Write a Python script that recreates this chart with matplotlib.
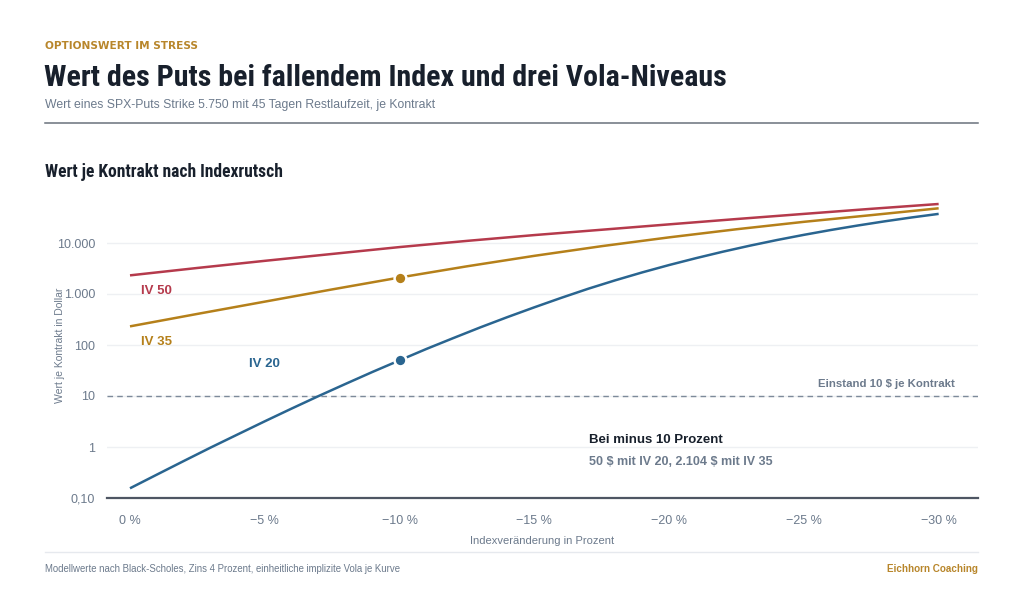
import matplotlib
matplotlib.use("Agg")
import matplotlib.pyplot as plt
from matplotlib import font_manager
from matplotlib.font_manager import FontProperties
from matplotlib.ticker import FixedLocator, FixedFormatter, NullLocator

# index change in percent
index_change = [0, -2.5, -5, -7.5, -10, -12.5, -15, -17.5, -20, -22.5, -25, -27.5, -30]
index_change_fine = list(range(0, -31, -1))

# put value per contract in dollars
iv50 = [2320, 3240, 4470, 6100, 8320, 11000, 14300, 18200, 23200, 29500, 37200, 46800, 58200]
iv35 = [232, 407, 708, 1230, 2104, 3490, 5600, 8670, 12900, 18600, 26000, 35200, 47900]
iv20 = [0.155, 0.288, 0.533, 0.98, 1.77, 3.19, 5.68, 10.0, 17.3, 29.7,
        50, 83.8, 137, 222, 352, 548, 841, 1268, 1854, 2649,
        3698, 5047, 6761, 8872, 11430, 14450, 17990, 22030, 26610, 31700, 37240]

series_names = ["IV 50", "IV 35", "IV 20"]
breakeven = 10
marker_x = -10
marker_iv20 = 50
marker_iv35 = 2104

y_ticks = [0.1, 1, 10, 100, 1000, 10000]
y_tick_labels = ["0,10", "1", "10", "100", "1.000", "10.000"]
x_ticks = [0, -5, -10, -15, -20, -25, -30]
x_tick_labels = ["0 %", "\u22125 %", "\u221210 %", "\u221215 %", "\u221220 %", "\u221225 %", "\u221230 %"]

RED = "#b53a4c"
GOLD = "#b5801a"
BLUE = "#2a6590"
DARK = "#18202c"
GREY = "#6c7a8c"
KICKER = "#b8862b"

plt.rcParams["font.family"] = ["Liberation Sans", "DejaVu Sans"]


def condensed_bold():
    # look for a narrow bold face among installed fonts, else plain bold
    prefs = ["robotocondensed-bold", "notosans-condensedbold", "liberationsansnarrow-bold",
             "dejavusanscondensed-bold", "opensans-condensedbold", "opensans_condensed-bold"]
    files = [f.fname for f in font_manager.fontManager.ttflist]
    for p in prefs:
        for fn in files:
            if fn.lower().split("/")[-1].startswith(p):
                return FontProperties(fname=fn)
    for fn in files:
        low = fn.lower().split("/")[-1]
        if ("condensed" in low or "narrow" in low) and "bold" in low \
                and "italic" not in low and "semi" not in low and "extra" not in low:
            return FontProperties(fname=fn)
    return FontProperties(family="Roboto", weight="bold")


COND = condensed_bold()

fig = plt.figure(figsize=(10.24, 6.02), dpi=100)
fig.patch.set_facecolor("white")

W, H = 1024, 602


def fx(px):
    return px / W


def fy(py):
    return 1 - py / H


def fit_width(txt, target_px):
    fig.canvas.draw()
    r = fig.canvas.get_renderer()
    w = txt.get_window_extent(r).width
    txt.set_fontsize(txt.get_fontsize() * target_px / w)


# header
fig.text(fx(45), fy(49), "OPTIONSWERT IM STRESS", color=KICKER, fontsize=7.6,
         fontweight="bold", family=["DejaVu Sans"], va="baseline")
title = fig.text(fx(44), fy(86), "Wert des Puts bei fallendem Index und drei Vola-Niveaus",
                 color=DARK, fontproperties=COND, va="baseline")
title.set_fontsize(20)
fig.text(fx(45), fy(108), "Wert eines SPX-Puts Strike 5.750 mit 45 Tagen Restlaufzeit, je Kontrakt",
         color=GREY, fontsize=8.8, va="baseline")
fig.add_artist(plt.Line2D([fx(45), fx(978)], [fy(123), fy(123)], color="#6a717c", lw=1.1))
section = fig.text(fx(45), fy(177), "Wert je Kontrakt nach Indexrutsch", color=DARK,
                   fontproperties=COND, va="baseline")
section.set_fontsize(12)
fit_width(title, 683)
fit_width(section, 239)

# plot area
ax = fig.add_axes([fx(107), fy(498), fx(978) - fx(107), fy(192) - fy(498)])
ax.set_yscale("log")
ax.set_ylim(0.1, 1e5)
ax.set_xlim(0.853, -31.46)

ax.plot(index_change, iv50, color=RED, lw=1.8, solid_capstyle="butt", zorder=3)
ax.plot(index_change, iv35, color=GOLD, lw=1.8, solid_capstyle="butt", zorder=3)
ax.plot(index_change_fine, iv20, color=BLUE, lw=1.8, solid_capstyle="butt", zorder=3)

ax.plot([marker_x], [marker_iv35], "o", color=GOLD, ms=8.5, mec="white", mew=1.8, zorder=4)
ax.plot([marker_x], [marker_iv20], "o", color=BLUE, ms=8.5, mec="white", mew=1.8, zorder=4)

ax.axhline(breakeven, color="#7d8a9a", lw=1, ls=(0, (4, 3)), zorder=2)

ax.yaxis.set_major_locator(FixedLocator(y_ticks))
ax.yaxis.set_major_formatter(FixedFormatter(y_tick_labels))
ax.yaxis.set_minor_locator(NullLocator())
ax.xaxis.set_major_locator(FixedLocator(x_ticks))
ax.xaxis.set_major_formatter(FixedFormatter(x_tick_labels))

ax.grid(axis="y", color="#eef0f3", lw=1, zorder=0)
ax.set_axisbelow(True)
for side in ["left", "right", "top"]:
    ax.spines[side].set_visible(False)
ax.spines["bottom"].set_color("#4e5663")
ax.spines["bottom"].set_linewidth(1.6)
ax.tick_params(axis="both", length=0, colors=GREY, labelsize=9)
ax.tick_params(axis="y", pad=8.5)
ax.tick_params(axis="x", pad=12.5)

ax.set_ylabel("Wert je Kontrakt in Dollar", color=GREY, fontsize=7.5)
ax.yaxis.set_label_coords(-0.048, 0.5)
ax.set_xlabel("Indexver\u00e4nderung in Prozent", color=GREY, fontsize=8, labelpad=6)

# series labels
ax.text(-0.41, 1150, series_names[0], color=RED, fontsize=9.5, fontweight="bold", va="center")
ax.text(-0.41, 115, series_names[1], color=GOLD, fontsize=9.5, fontweight="bold", va="center")
ax.text(-4.42, 43, series_names[2], color=BLUE, fontsize=9.5, fontweight="bold", va="center")

ax.text(-30.6, 17.2, "Einstand 10 \\$ je Kontrakt", color=GREY, fontsize=8.2,
        fontweight="bold", ha="right", va="center")
ax.text(-17.03, 1.37, "Bei minus 10 Prozent", color=DARK, fontsize=9.5,
        fontweight="bold", va="center")
ax.text(-17.03, 0.51, "50 \\$ mit IV 20, 2.104 \\$ mit IV 35", color=GREY, fontsize=9,
        fontweight="bold", va="center")

# footer
fig.add_artist(plt.Line2D([fx(45), fx(978)], [fy(552), fy(552)], color="#e6e9ee", lw=1))
fig.text(fx(45), fy(569), "Modellwerte nach Black-Scholes, Zins 4 Prozent, einheitliche implizite Vola je Kurve",
         color=GREY, fontsize=6.9, va="center")
fig.text(fx(978), fy(569), "Eichhorn Coaching", color=KICKER, fontsize=7.1, fontweight="bold",
         ha="right", va="center")

fig.savefig("out.png", dpi=100, facecolor="white")
